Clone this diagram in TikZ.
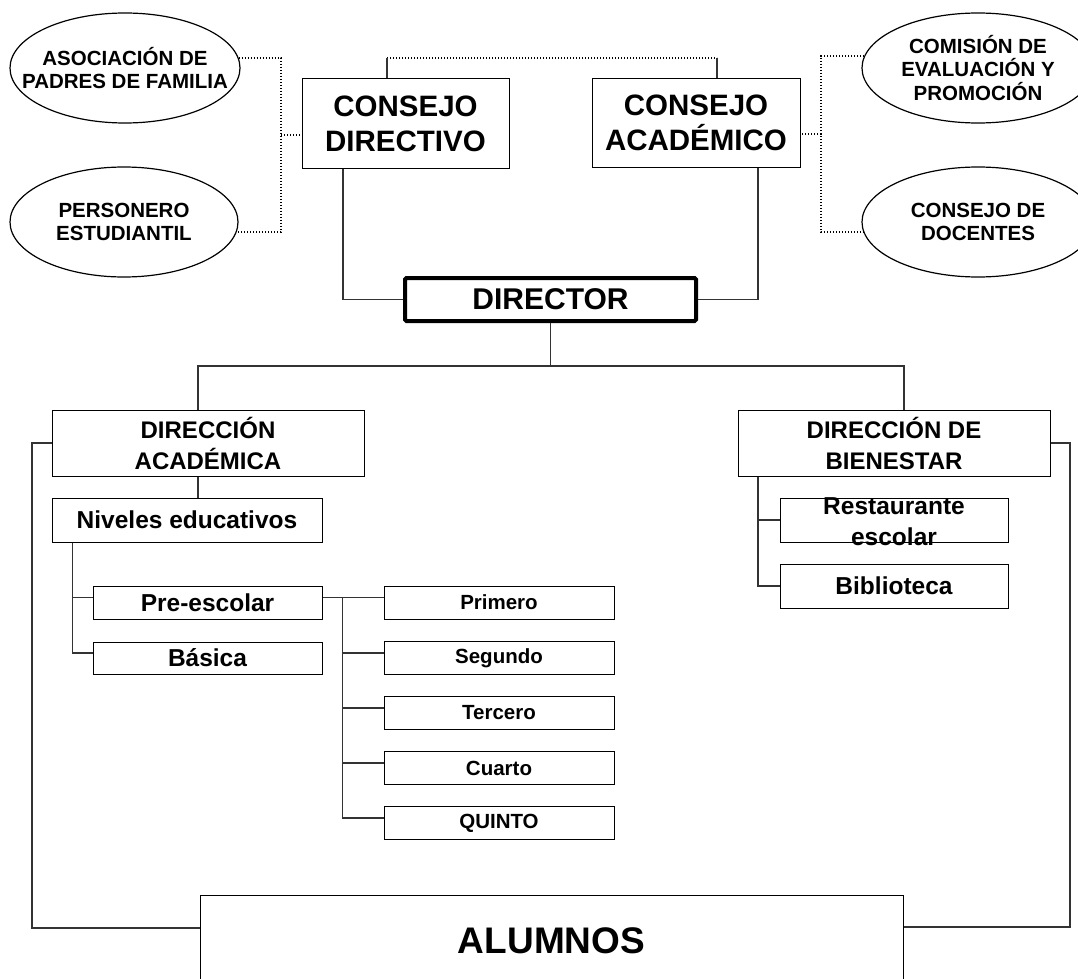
\documentclass[tikz,border=0pt]{standalone}
\usepackage{fontspec}
\setmainfont{Liberation Sans}
\usetikzlibrary{shapes.geometric}
\begin{document}
\begin{tikzpicture}[x=1pt,y=-1pt,
  box/.style={draw=black,line width=1pt,inner sep=0pt,align=center,fill=white},
  oval/.style={draw=black,line width=1.2pt,ellipse,inner sep=0pt},
  ovtext/.style={align=center,font=\bfseries\fontsize{20.5}{23.5}\selectfont},
  bigtext/.style={font=\bfseries\fontsize{29.5}{35}\selectfont},
  midtext/.style={font=\bfseries\fontsize{24}{31}\selectfont},
  smalltext/.style={font=\bfseries\fontsize{20.5}{24}\selectfont},
  conn/.style={draw=black!80,line width=1.1pt},
  dots/.style={draw=black,line width=1.5pt,dash pattern=on 1.4pt off 1.6pt},
]
\clip (0,0) rectangle (1078,979);
\fill[white] (0,0) rectangle (1078,979);

% ellipses
\node[oval,minimum width=230,minimum height=110,
  label={[ovtext]center:ASOCIACIÓN DE\\PADRES DE FAMILIA}] (asoc) at (125,68) {};
\node[oval,minimum width=228,minimum height=110,
  label={[ovtext]center:PERSONERO\\ESTUDIANTIL}] (pers) at (124,222) {};
\node[oval,minimum width=232,minimum height=110,
  label={[ovtext]center:COMISIÓN DE\\EVALUACIÓN Y\\PROMOCIÓN}] (comi) at (978,68) {};
\node[oval,minimum width=232,minimum height=110,
  label={[ovtext]center:CONSEJO DE\\DOCENTES}] (doce) at (978,222) {};

% top boxes
\node[box,bigtext,minimum width=207,minimum height=89] (cd) at (405.5,123.5) {CONSEJO\\DIRECTIVO};
\node[box,bigtext,minimum width=208,minimum height=88] (ca) at (696,123) {CONSEJO\\ACADÉMICO};
\node[box,line width=4pt,rounded corners=1.5pt,minimum width=291,minimum height=43,
  font=\bfseries\fontsize{30}{34}\selectfont] (dir) at (550.5,299.5) {DIRECTOR};

% second level
\node[box,midtext,minimum width=312,minimum height=66] (dirac) at (208,443) {DIRECCIÓN\\ACADÉMICA};
\node[box,midtext,minimum width=312,minimum height=66] (dirbi) at (894,443) {DIRECCIÓN DE\\BIENESTAR};

\node[box,font=\bfseries\fontsize{24.5}{31}\selectfont,minimum width=270,minimum height=44] (niv) at (187,520) {Niveles educativos};
\node[box,font=\bfseries\fontsize{24.5}{31}\selectfont,minimum width=229,minimum height=33] (pre) at (207.5,602.5) {Pre-escolar};
\node[box,font=\bfseries\fontsize{24.5}{31}\selectfont,minimum width=229,minimum height=32] (bas) at (207.5,658) {Básica};

\node[box,smalltext,minimum width=230,minimum height=33] (g1) at (499,602.5) {Primero};
\node[box,smalltext,minimum width=230,minimum height=33] (g2) at (499,658) {Segundo};
\node[box,smalltext,minimum width=230,minimum height=33] (g3) at (499,713) {Tercero};
\node[box,smalltext,minimum width=230,minimum height=33] (g4) at (499,768) {Cuarto};
\node[box,smalltext,minimum width=230,minimum height=33] (g5) at (499,823) {QUINTO};

\node[box,minimum width=228,minimum height=44,
  label={[align=center,font=\bfseries\fontsize{24.5}{31}\selectfont,yshift=-2pt]center:Restaurante\\escolar}] (rest) at (894,520) {};
\node[box,font=\bfseries\fontsize{24.5}{31}\selectfont,minimum width=228,minimum height=44] (bib) at (894,586) {Biblioteca};

\node[box,minimum width=703,minimum height=92,font=\bfseries\fontsize{37}{40}\selectfont] (alum) at (551.5,941) {ALUMNOS};

% coordinates for bends
\coordinate (lbus) at (281,135);
\coordinate (rbus) at (821,134);
\coordinate (tl) at (387,58);
\coordinate (tr) at (717,58);
\coordinate (bus) at (550.5,366);
\coordinate (lowL) at (32,928);
\coordinate (lowR) at (1070,927);

% dotted connectors
\draw[dots] (asoc.5.6) -| (lbus) |- (pers.-5);
\draw[dots] (lbus) -- (lbus -| cd.west);
\draw[dots] (comi.174.4) -| (rbus) |- (doce.185);
\draw[dots] (rbus) -- (rbus -| ca.east);
\draw[dots] (tl) -- (tr);
\draw[conn] (tl) -- (tl |- cd.north);
\draw[conn] (tr) -- (tr |- ca.north);

% solid connectors
\draw[conn] ([xshift=-62.5pt]cd.south) |- (dir.west);
\draw[conn] ([xshift=62pt]ca.south) |- (dir.east);
\draw[conn] (dir.south) -- (bus);
\draw[conn] ([xshift=-10pt]dirac.north) |- (bus) -| ([xshift=10pt]dirbi.north);
\draw[conn] ([xshift=-10pt]dirac.south) -- ([xshift=-10pt]dirac.south |- niv.north);
\draw[conn] ([xshift=21pt]niv.south west) |- ([yshift=5pt]pre.west);
\draw[conn] ([xshift=21pt]niv.south west) |- ([yshift=5pt]bas.west);
\draw[conn] ([yshift=5pt]pre.east) -- ([yshift=5pt]g1.west);
\draw[conn] ([xshift=-41pt,yshift=5pt]g1.west) |- ([yshift=5pt]g5.west);
\draw[conn] ([yshift=5pt]g2.west) -- ++(-41,0);
\draw[conn] ([yshift=5pt]g3.west) -- ++(-41,0);
\draw[conn] ([yshift=5pt]g4.west) -- ++(-41,0);
\draw[conn] ([xshift=20.5pt]dirbi.south west) |- (rest.west);
\draw[conn] ([xshift=20.5pt]dirbi.south west) |- (bib.west);
\draw[conn] (dirac.west) -| (lowL) -- (lowL -| alum.west);
\draw[conn] (dirbi.east) -| (lowR) -- (lowR -| alum.east);
\end{tikzpicture}
\end{document}
